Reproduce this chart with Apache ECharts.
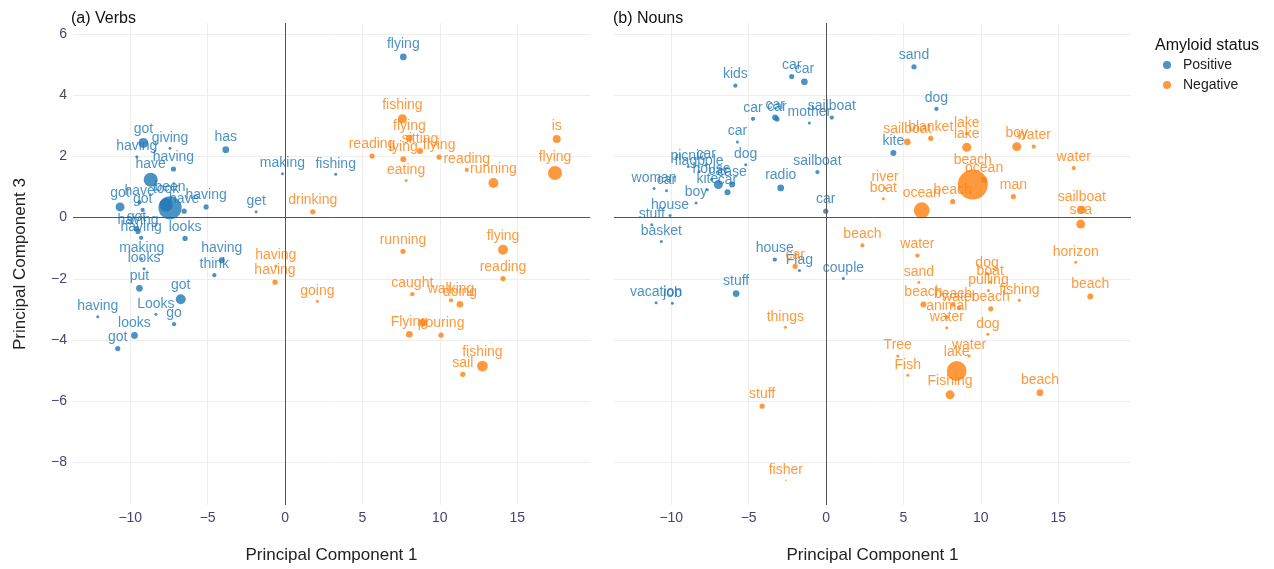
<!DOCTYPE html>
<html>
<head>
<meta charset="utf-8">
<script src="https://cdn.jsdelivr.net/npm/echarts@6/dist/echarts.min.js"></script>
<style>
  html, body { margin: 0; padding: 0; background: #fff; }
  #chart { width: 1274px; height: 569px; }
</style>
</head>
<body>
<div id="chart"></div>
<script>
// [word, PC1, PC3, count]
const verbsPositive = [
  ['flying', 7.64, 5.25, 5],
  ['got', -9.15, 2.44, 11],
  ['giving', -7.43, 2.27, 1],
  ['having', -9.58, 1.99, 1],
  ['has', -3.83, 2.22, 5],
  ['having', -7.21, 1.59, 3],
  ['have', -8.68, 1.24, 22],
  ['making', -0.17, 1.43, 1],
  ['fishing', 3.27, 1.42, 1],
  ['get', -1.87, 0.19, 1],
  ['got', -10.66, 0.35, 9],
  ['have', -9.4, 0.5, 2],
  ['got', -9.2, 0.25, 2],
  ['took', -7.69, 0.42, 20],
  ['been', -7.43, 0.32, 60],
  ['have', -6.52, 0.21, 3],
  ['having', -5.1, 0.35, 3],
  ['got', -9.6, -0.36, 3],
  ['having', -9.5, -0.45, 3],
  ['having', -9.3, -0.66, 2],
  ['looks', -6.46, -0.68, 3],
  ['making', -9.26, -1.34, 1],
  ['looks', -9.11, -1.67, 1],
  ['having', -4.09, -1.39, 4],
  ['think', -4.57, -1.88, 2],
  ['put', -9.41, -2.31, 5],
  ['got', -6.74, -2.67, 11],
  ['having', -12.1, -3.24, 1],
  ['Looks', -8.35, -3.16, 1],
  ['go', -7.17, -3.48, 2],
  ['looks', -9.73, -3.85, 5],
  ['got', -10.81, -4.28, 3]
]

const verbsNegative = [
  ['fishing', 7.58, 3.23, 9],
  ['flying', 8.03, 2.6, 5],
  ['sitting', 8.72, 2.18, 4],
  ['reading', 5.62, 2.01, 3],
  ['lying', 7.64, 1.91, 4],
  ['flying', 9.95, 1.98, 3],
  ['eating', 7.82, 1.21, 1],
  ['reading', 11.74, 1.56, 2],
  ['running', 13.46, 1.13, 11],
  ['is', 17.55, 2.57, 7],
  ['flying', 17.44, 1.46, 22],
  ['drinking', 1.79, 0.19, 3],
  ['running', 7.62, -1.1, 3],
  ['flying', 14.08, -1.05, 11],
  ['reading', 14.08, -1.99, 3],
  ['having', -0.6, -1.58, 1],
  ['having', -0.65, -2.11, 3],
  ['going', 2.09, -2.73, 1],
  ['caught', 8.22, -2.5, 2],
  ['walking', 10.72, -2.7, 2],
  ['doing', 11.3, -2.83, 5],
  ['', 8.9, -3.43, 5],
  ['Flying', 8.03, -3.81, 5],
  ['pouring', 10.08, -3.84, 3],
  ['fishing', 12.75, -4.85, 13],
  ['sail', 11.48, -5.12, 3]
]

const nounsPositive = [
  ['sand', 5.68, 4.93, 3],
  ['kids', -5.86, 4.31, 2],
  ['car', -2.22, 4.61, 3],
  ['car', -1.4, 4.44, 5],
  ['car', -4.72, 3.23, 2],
  ['car', -3.29, 3.27, 4],
  ['car', -3.17, 3.22, 3],
  ['mother', -1.08, 3.09, 1],
  ['sailboat', 0.37, 3.27, 2],
  ['dog', 7.13, 3.55, 2],
  ['car', -5.73, 2.47, 1],
  ['kite', 4.35, 2.11, 4],
  ['dog', -5.19, 1.73, 1],
  ['sailboat', -0.56, 1.49, 2],
  ['radio', -2.93, 0.97, 5],
  ['car', -0.02, 0.21, 3],
  ['picnic', -8.9, 1.67, 1],
  ['car', -7.75, 1.73, 1],
  ['flagpole', -8.2, 1.51, 1],
  ['house', -7.4, 1.25, 1],
  ['kite', -7.67, 0.91, 1],
  ['car', -6.96, 1.08, 9],
  ['case', -6.07, 1.08, 4],
  ['car', -6.37, 0.83, 4],
  ['woman', -11.11, 0.95, 1],
  ['car', -10.31, 0.88, 1],
  ['boy', -8.4, 0.48, 1],
  ['house', -10.08, 0.07, 1],
  ['stuff', -11.26, -0.23, 1],
  ['basket', -10.64, -0.78, 1],
  ['house', -3.31, -1.37, 2],
  ['Flag', -1.72, -1.73, 1],
  ['couple', 1.12, -1.99, 1],
  ['stuff', -5.81, -2.48, 5],
  ['vacation', -10.98, -2.78, 1],
  ['job', -9.93, -2.8, 1]
]

const nounsNegative = [
  ['sailboat', 5.25, 2.48, 5],
  ['blanket', 6.76, 2.59, 3],
  ['lake', 9.09, 2.75, 1],
  ['lake', 9.09, 2.3, 9],
  ['boy', 12.32, 2.32, 9],
  ['water', 13.42, 2.32, 2],
  ['water', 16.0, 1.62, 2],
  ['ocean', 10.21, 1.24, 4],
  ['beach', 9.48, 1.08, 100],
  ['river', 3.81, 0.97, 1],
  ['boat', 3.7, 0.62, 1],
  ['ocean', 6.18, 0.24, 28],
  ['beach', 8.18, 0.52, 3],
  ['man', 12.1, 0.69, 3],
  ['sailboat', 16.52, 0.26, 7],
  ['sea', 16.45, -0.21, 9],
  ['beach', 2.35, -0.91, 2],
  ['water', 5.9, -1.24, 2],
  ['car', -2.0, -1.59, 3],
  ['sand', 6.0, -2.11, 1],
  ['dog', 10.4, -1.82, 1],
  ['boat', 10.6, -2.1, 1],
  ['pulling', 10.49, -2.38, 1],
  ['fishing', 12.49, -2.7, 1],
  ['beach', 10.64, -2.98, 3],
  ['beach', 6.29, -2.84, 4],
  ['beach', 8.2, -2.85, 2],
  ['water', 8.6, -2.95, 2],
  ['animal', 7.8, -3.25, 2],
  ['water', 7.8, -3.6, 1],
  ['dog', 10.45, -3.81, 1],
  ['things', -2.63, -3.58, 1],
  ['Tree', 4.63, -4.52, 1],
  ['Fish', 5.28, -5.15, 1],
  ['water', 9.24, -4.52, 1],
  ['lake', 8.44, -5.01, 44],
  ['Fishing', 8.01, -5.79, 9],
  ['beach', 13.82, -5.72, 5],
  ['horizon', 16.13, -1.46, 1],
  ['beach', 17.07, -2.58, 4],
  ['stuff', -4.13, -6.16, 3],
  ['fisher', -2.6, -8.58, 0.3]
]

const xTicks = [-10, -5, 0, 5, 10, 15]
const yTicks = [-8, -6, -4, -2, 0, 2, 4, 6]

const BLUE = '#1f77b4'
const ORANGE = '#ff7f0e'
const FONT = '"Liberation Sans", Arial, sans-serif'

const chart = echarts.init(document.getElementById('chart'))

function toPoints(rows) {
  return rows.map(r => ({ name: r[0], value: [r[1], r[2], r[3]] }))
}

function minus(v) {
  return String(v).replace('-', '\u2212')
}

function makeSeries(name, rows, color, idx, withZero) {
  const s = {
    name: name,
    type: 'scatter',
    xAxisIndex: idx,
    yAxisIndex: idx,
    data: toPoints(rows),
    symbolSize: v => 3 * Math.sqrt(v[2]),
    itemStyle: { color: color, opacity: 0.8 },
    label: {
      show: true,
      position: 'top',
      distance: 2,
      formatter: p => p.name,
      color: color,
      fontSize: 14,
      fontFamily: FONT
    },
    emphasis: { disabled: true }
  }
  if (withZero) {
    s.markLine = {
      silent: true,
      symbol: 'none',
      label: { show: false },
      lineStyle: { color: '#555', width: 1, type: 'solid' },
      data: [{ xAxis: 0 }, { yAxis: 0 }]
    }
  }
  return s
}

function xAxisFor(idx) {
  return {
    type: 'value',
    gridIndex: idx,
    min: -13.7,
    max: 19.7,
    name: 'Principal Component 1',
    nameLocation: 'middle',
    nameGap: 42,
    nameTextStyle: { color: '#222', fontSize: 17, fontFamily: FONT },
    axisLine: { show: false },
    axisTick: { show: false, customValues: xTicks },
    axisLabel: { customValues: xTicks, color: '#4b3f72', fontSize: 14, fontFamily: FONT, margin: 6, formatter: minus },
    splitLine: { show: true, lineStyle: { color: '#eeeeee', width: 1 } }
  }
}

function yAxisFor(idx) {
  return {
    type: 'value',
    gridIndex: idx,
    min: -9.39,
    max: 6.36,
    name: idx === 0 ? 'Principal Component 3' : '',
    nameLocation: 'middle',
    nameGap: 44,
    nameTextStyle: { color: '#222', fontSize: 17, fontFamily: FONT },
    axisLine: { show: false },
    axisTick: { show: false, customValues: yTicks },
    axisLabel: { show: idx === 0, customValues: yTicks, color: '#4b3f72', fontSize: 14, fontFamily: FONT, margin: 6, formatter: minus },
    splitLine: { show: true, lineStyle: { color: '#eeeeee', width: 1 } }
  }
}

chart.setOption({
  backgroundColor: '#fff',
  animation: false,
  title: [
    { text: '(a) Verbs', left: 66, top: 6, textStyle: { fontSize: 16, fontWeight: 'normal', color: '#111', fontFamily: FONT } },
    { text: '(b) Nouns', left: 608, top: 6, textStyle: { fontSize: 16, fontWeight: 'normal', color: '#111', fontFamily: FONT } },
    { text: 'Amyloid status', left: 1150, top: 33, textStyle: { fontSize: 16, fontWeight: 'normal', color: '#111', fontFamily: FONT } }
  ],
  legend: {
    data: ['Positive', 'Negative'],
    orient: 'vertical',
    left: 1158,
    top: 53,
    itemGap: 6,
    itemWidth: 8,
    itemHeight: 8,
    icon: 'circle',
    textStyle: { fontSize: 14, color: '#222', fontFamily: FONT, padding: [0, 0, 0, 7] },
    selectedMode: false
  },
  grid: [
    { left: 73, top: 23, width: 517, height: 483 },
    { left: 614, top: 23, width: 517, height: 483 }
  ],
  xAxis: [xAxisFor(0), xAxisFor(1)],
  yAxis: [yAxisFor(0), yAxisFor(1)],
  series: [
    makeSeries('Positive', verbsPositive, BLUE, 0, true),
    makeSeries('Negative', verbsNegative, ORANGE, 0, false),
    makeSeries('Positive', nounsPositive, BLUE, 1, true),
    makeSeries('Negative', nounsNegative, ORANGE, 1, false)
  ]
})
</script>
</body>
</html>
